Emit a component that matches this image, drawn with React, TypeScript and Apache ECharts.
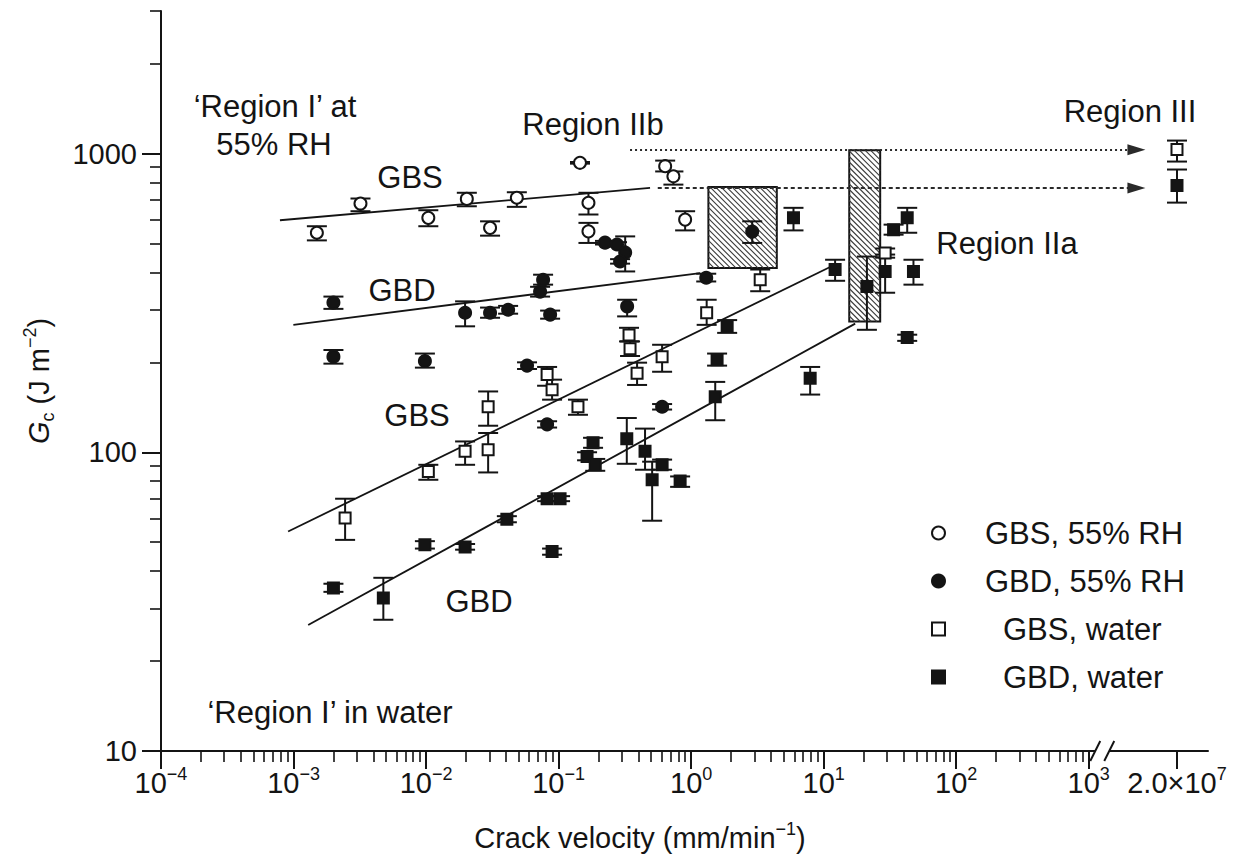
import React, { useEffect, useRef } from "react";
import * as echarts from "echarts";

const FONT = "Liberation Sans";
const INK = "#141414";
const TEXT_SIZE = 29;
const NOTE_SIZE = 31;
const SUP_SIZE = 18;

// ---- axes -------------------------------------------------------------
// Velocity axis is drawn in decades (log10 of mm/min); past 10^3 the axis is
// broken and only the Region III velocity is shown.
const X_DECADES = [-4, -3, -2, -1, 0, 1, 2, 3];
const X_MINOR_DECADES = [-4, -3, -2, -1, 0, 1, 2];
const MINOR_STEPS = [2, 3, 4, 5, 6, 7, 8, 9];
const X_MIN_POS = -4;
const X_MAX_POS = 3.9;
const BREAK_FROM = 1e3;
const REGION_III_V = 2.0e7;
const REGION_III_POS = 3.666; // where the 2.0×10^7 tick sits beyond the break
const BREAK_MARK_POS = 3.102;
const ARROW_END_POS = 3.36;

const Y_DECADES = [1, 2, 3];
const Y_LABELS = ["10", "100", "1000"];
const Y_MINOR = [20, 30, 40, 50, 60, 70, 80, 90, 200, 300, 400, 500, 600, 700, 800, 900, 2000, 3000];
const Y_MIN = 10;
const Y_MAX = 3000;

// ---- data: crack velocity (mm/min), Gc (J m^-2), error limits ------------
// GBS, 55% RH
const gbsRhV = [1.5e-3, 3.2e-3, 0.0104, 0.0203, 0.0304, 0.0484, 0.145, 0.168, 0.168, 0.637, 0.735, 0.901];
const gbsRhG = [543, 680, 609, 705, 564, 711, 931, 684, 549, 907, 839, 601];
const gbsRhLo = [512, 641, 571, 666, 531, 663, 925, 625, 502, 871, 787, 553];
const gbsRhHi = [571, 707, 646, 739, 593, 742, 937, 739, 586, 947, 871, 641];

// GBD, 55% RH
const gbdRhV = [2.0e-3, 2.0e-3, 9.8e-3, 0.0197, 0.0304, 0.0416, 0.0725, 0.0764, 0.0863, 0.0578, 0.224, 0.276, 0.318, 0.291, 0.329, 1.3, 2.89, 0.604, 0.0819];
const gbdRhG = [317, 209, 202, 293, 293, 300, 345, 378, 289, 195, 503, 496, 466, 435, 308, 384, 548, 142, 124];
const gbdRhLo = [302, 198, 192, 264, 282, 291, 332, 364, 280, 190, 496, 488, 403, 428, 285, 373, 502, 139, 121];
const gbdRhHi = [332, 220, 214, 320, 305, 309, 358, 393, 298, 200, 510, 505, 528, 443, 324, 396, 593, 145, 127];

// GBS, water
const gbsWaterV = [2.45e-3, 0.0104, 0.0197, 0.0294, 0.0294, 0.0819, 0.0893, 0.14, 0.34, 0.346, 0.391, 0.604, 1.31, 3.32, 29.1, 2.0e7];
const gbsWaterG = [60.2, 86.2, 100.7, 142, 102, 182, 162, 142, 247, 222, 184, 209, 293, 378, 465, 1031];
const gbsWaterLo = [50.9, 80.9, 90.8, 122.7, 85.6, 167, 150, 133.5, 235, 210, 168, 186, 267, 346, 448, 940];
const gbsWaterHi = [69.9, 90.8, 108.7, 159.8, 116, 193, 175, 150, 261, 235, 199.5, 229, 324, 409, 481, 1105];

// GBD, water
const gbdWaterV = [2.0e-3, 4.76e-3, 9.8e-3, 0.0197, 0.0407, 0.0819, 0.1026, 0.0893, 0.182, 0.164, 0.189, 0.327, 0.449, 0.604, 0.508, 0.826, 1.57, 1.52, 1.87, 7.91, 42.7, 5.92, 12.2, 21.2, 29.1, 33.7, 42.7, 47.6, 2.0e7];
const gbdWaterG = [35.1, 32.5, 49, 48.2, 59.7, 69.9, 69.9, 46.5, 107.6, 96.8, 90.8, 111, 100.7, 90.8, 80.9, 80.2, 204, 153.5, 264, 177, 242, 609, 409, 359, 403, 556, 609, 403, 781];
const gbdWaterLo = [34.1, 27.5, 47.6, 47.2, 58.3, 68.6, 68.6, 45.4, 103.5, 94, 86.7, 91.5, 87.4, 87.4, 59, 76.6, 195, 128, 251, 156, 236, 553, 375, 257, 342, 535, 543, 364, 685];
const gbdWaterHi = [36.3, 38, 50.4, 49.3, 61.1, 71.3, 71.3, 47.6, 111.8, 100, 95, 130.2, 120, 94.5, 93, 83, 214, 172, 277, 193, 247.5, 658, 441, 452, 459, 578, 658, 441, 884];

// Fitted trend lines (end points)
const fitGbsRhV = [7.9e-4, 0.49];
const fitGbsRhG = [598, 767];
const fitGbdRhV = [9.97e-4, 1.17];
const fitGbdRhG = [267, 398];
const fitGbsWaterV = [9.1e-4, 11.8];
const fitGbsWaterG = [54.3, 422];
const fitGbdWaterV = [1.29e-3, 17.3];
const fitGbdWaterG = [26.4, 269.5];

// Transition bands (Region IIb box, Region IIa box)
const bandV0 = [1.35, 15.6];
const bandV1 = [4.43, 26.7];
const bandG0 = [414, 274];
const bandG1 = [773, 1026];

// Dotted guides towards Region III
const guideV0 = [0.346, 0.56];
const guideG = [1030, 767];

const xPos = (v: number) => (v > BREAK_FROM ? REGION_III_POS : Math.log10(v));
const yPos = (g: number) => Math.log10(g);

const points = (v: number[], g: number[]) => v.map((x, i) => [xPos(x), yPos(g[i])]);
const bars = (v: number[], lo: number[], hi: number[]) => v.map((x, i) => [xPos(x), yPos(lo[i]), yPos(hi[i])]);

const supText = (s: string) => s.replace("-", "\u2212");

const errorSeries = (name: string, data: number[][]) => ({
  type: "custom",
  name,
  data,
  encode: { x: 0, y: [1, 2] },
  silent: true,
  z: 3,
  renderItem: (_p: any, api: any) => {
    const x = api.value(0);
    const lo = api.coord([x, api.value(1)]);
    const hi = api.coord([x, api.value(2)]);
    const hw = 10;
    const st = { stroke: INK, lineWidth: 2 };
    return {
      type: "group",
      children: [
        { type: "line", shape: { x1: lo[0], y1: lo[1], x2: hi[0], y2: hi[1] }, style: st },
        { type: "line", shape: { x1: lo[0] - hw, y1: lo[1], x2: lo[0] + hw, y2: lo[1] }, style: st },
        { type: "line", shape: { x1: hi[0] - hw, y1: hi[1], x2: hi[0] + hw, y2: hi[1] }, style: st },
      ],
    };
  },
});

const fitSeries = (v: number[], g: number[]) => ({
  type: "line",
  data: points(v, g),
  symbol: "none",
  silent: true,
  z: 2,
  lineStyle: { color: INK, width: 1.8 },
});

const bandData = bandV0.map((v, i) => [xPos(v), xPos(bandV1[i]), yPos(bandG0[i]), yPos(bandG1[i])]);

const annotations = [
  { text: "\u2018Region I\u2019 at", x: 275, y: 106 },
  { text: "55% RH", x: 274, y: 144 },
  { text: "Region IIb", x: 593, y: 124 },
  { text: "GBS", x: 410, y: 177 },
  { text: "GBD", x: 402, y: 290 },
  { text: "GBS", x: 417, y: 415 },
  { text: "GBD", x: 479, y: 601 },
  { text: "Region IIa", x: 1007, y: 243 },
  { text: "Region III", x: 1130, y: 111 },
  { text: "\u2018Region I\u2019 in water", x: 330, y: 712 },
];

const supRich = {
  s: { fontFamily: FONT, fontSize: SUP_SIZE, color: INK, verticalAlign: "top", lineHeight: SUP_SIZE },
};

const solid = (fill: string) => ({ color: fill, borderColor: INK, borderWidth: 2, opacity: 1 });

export default function App() {
  const ref = useRef<HTMLDivElement>(null);

  useEffect(() => {
    const el = ref.current;
    if (!el) return;
    const chart = echarts.init(el, null, { renderer: "svg" });

    const xMinor: number[] = [];
    X_MINOR_DECADES.forEach((d) => MINOR_STEPS.forEach((k) => xMinor.push(d + Math.log10(k))));
    const xMajor = [...X_DECADES, REGION_III_POS];
    const yMinor = Y_MINOR.map((g) => Math.log10(g));

    const axisLineStyle = { color: INK, width: 2 };

    const option: any = {
      animation: false,
      backgroundColor: "#ffffff",
      grid: { left: 161, right: 34, top: 11, bottom: 105, containLabel: false },
      xAxis: [
        {
          type: "value",
          min: X_MIN_POS,
          max: X_MAX_POS,
          position: "bottom",
          axisLine: { show: true, onZero: false, lineStyle: axisLineStyle },
          axisTick: { show: true, customValues: xMajor, length: 18, lineStyle: { color: INK, width: 2 } },
          axisLabel: {
            show: true,
            customValues: xMajor,
            margin: 14,
            fontFamily: FONT,
            fontSize: TEXT_SIZE,
            color: INK,
            lineHeight: 36,
            rich: supRich,
            formatter: (val: number) => {
              if (Math.abs(val - REGION_III_POS) < 1e-6) return "2.0\u00d710{s|7}";
              return "10{s|" + supText(String(Math.round(val))) + "}";
            },
          },
          splitLine: { show: false },
        },
        {
          type: "value",
          min: X_MIN_POS,
          max: X_MAX_POS,
          position: "bottom",
          offset: 0,
          axisLine: { show: false, onZero: false },
          axisTick: { show: true, customValues: xMinor, length: 11, lineStyle: { color: INK, width: 1.6 } },
          axisLabel: { show: false },
          splitLine: { show: false },
        },
      ],
      yAxis: [
        {
          type: "value",
          min: yPos(Y_MIN),
          max: yPos(Y_MAX),
          position: "left",
          axisLine: { show: true, onZero: false, lineStyle: axisLineStyle },
          axisTick: { show: true, customValues: Y_DECADES, length: 19, lineStyle: { color: INK, width: 2 } },
          axisLabel: {
            show: true,
            customValues: Y_DECADES,
            margin: 24,
            fontFamily: FONT,
            fontSize: TEXT_SIZE,
            color: INK,
            formatter: (val: number) => Y_LABELS[Y_DECADES.indexOf(Math.round(val))],
          },
          splitLine: { show: false },
          name: "{i|G}{sub|c} (J m{sup|\u22122})",
          nameLocation: "middle",
          nameGap: 104,
          nameRotate: 90,
          nameTextStyle: {
            fontFamily: FONT,
            fontSize: TEXT_SIZE,
            color: INK,
            lineHeight: 36,
            rich: {
              i: { fontFamily: FONT, fontSize: TEXT_SIZE, fontStyle: "italic", color: INK, lineHeight: 36 },
              sub: { fontFamily: FONT, fontSize: SUP_SIZE, color: INK, verticalAlign: "bottom", lineHeight: SUP_SIZE },
              sup: { fontFamily: FONT, fontSize: SUP_SIZE, color: INK, verticalAlign: "top", lineHeight: SUP_SIZE },
            },
          },
        },
        {
          type: "value",
          min: yPos(Y_MIN),
          max: yPos(Y_MAX),
          position: "left",
          offset: 0,
          axisLine: { show: false, onZero: false },
          axisTick: { show: true, customValues: yMinor, length: 11, lineStyle: { color: INK, width: 1.6 } },
          axisLabel: { show: false },
          splitLine: { show: false },
        },
      ],
      legend: {
        orient: "vertical",
        left: 926,
        top: 512,
        itemWidth: 13,
        itemHeight: 13,
        itemGap: 16,
        selectedMode: false,
        textStyle: { fontFamily: FONT, fontSize: NOTE_SIZE, color: INK, lineHeight: 32, padding: [0, 0, 0, 35] },
        data: [
          { name: "GBS, 55% RH" },
          { name: "GBD, 55% RH" },
          { name: "GBS, water", textStyle: { padding: [0, 0, 0, 53] } },
          { name: "GBD, water", textStyle: { padding: [0, 0, 0, 53] } },
        ],
      },
      series: [
        {
          type: "custom",
          name: "transition bands",
          data: bandData,
          encode: { x: [0, 1], y: [2, 3] },
          silent: true,
          z: 1,
          renderItem: (_p: any, api: any) => {
            const a = api.coord([api.value(0), api.value(3)]);
            const b = api.coord([api.value(1), api.value(2)]);
            const x0 = a[0];
            const y0 = a[1];
            const w = b[0] - a[0];
            const h = b[1] - a[1];
            const children: any[] = [
              { type: "rect", shape: { x: x0, y: y0, width: w, height: h }, style: { fill: "#ffffff", stroke: INK, lineWidth: 2 } },
            ];
            const step = 5.5;
            for (let c = -h; c < w; c += step) {
              const t0 = Math.max(0, -c);
              const t1 = Math.min(h, w - c);
              if (t1 <= t0) continue;
              children.push({
                type: "line",
                shape: { x1: x0 + c + t0, y1: y0 + t0, x2: x0 + c + t1, y2: y0 + t1 },
                style: { stroke: "#3a3a3a", lineWidth: 1.1 },
              });
            }
            return { type: "group", children };
          },
        },
        {
          type: "line",
          name: "guides",
          data: [],
          silent: true,
          z: 2,
          markLine: {
            silent: true,
            symbol: ["none", "triangle"],
            symbolSize: [11, 18],
            label: { show: false },
            data: [
              [
                { coord: [xPos(guideV0[0]), yPos(guideG[0])], lineStyle: { type: [2, 3], color: "#2a2a2a", width: 2 } },
                { coord: [ARROW_END_POS, yPos(guideG[0])] },
              ],
              [
                { coord: [xPos(guideV0[1]), yPos(guideG[1])], lineStyle: { type: [4, 3], color: "#2a2a2a", width: 2 } },
                { coord: [ARROW_END_POS, yPos(guideG[1])] },
              ],
            ],
            itemStyle: { color: INK },
          },
        },
        fitSeries(fitGbsRhV, fitGbsRhG),
        fitSeries(fitGbdRhV, fitGbdRhG),
        fitSeries(fitGbsWaterV, fitGbsWaterG),
        fitSeries(fitGbdWaterV, fitGbdWaterG),
        errorSeries("GBS, 55% RH bars", bars(gbsRhV, gbsRhLo, gbsRhHi)),
        errorSeries("GBD, 55% RH bars", bars(gbdRhV, gbdRhLo, gbdRhHi)),
        errorSeries("GBS, water bars", bars(gbsWaterV, gbsWaterLo, gbsWaterHi)),
        errorSeries("GBD, water bars", bars(gbdWaterV, gbdWaterLo, gbdWaterHi)),
        {
          type: "scatter",
          name: "GBS, 55% RH",
          data: points(gbsRhV, gbsRhG),
          symbol: "circle",
          symbolSize: 12,
          itemStyle: solid("#ffffff"),
          z: 5,
        },
        {
          type: "scatter",
          name: "GBD, 55% RH",
          data: points(gbdRhV, gbdRhG),
          symbol: "circle",
          symbolSize: 12,
          itemStyle: solid(INK),
          z: 5,
        },
        {
          type: "scatter",
          name: "GBS, water",
          data: points(gbsWaterV, gbsWaterG),
          symbol: "rect",
          symbolSize: 11,
          itemStyle: solid("#ffffff"),
          z: 5,
        },
        {
          type: "scatter",
          name: "GBD, water",
          data: points(gbdWaterV, gbdWaterG),
          symbol: "rect",
          symbolSize: 11,
          itemStyle: solid(INK),
          z: 5,
        },
      ],
      graphic: [
        ...annotations.map((a) => ({
          type: "text",
          x: a.x,
          y: a.y,
          silent: true,
          style: { text: a.text, fontFamily: FONT, fontSize: NOTE_SIZE, fill: INK, align: "center", verticalAlign: "middle" },
        })),
        {
          type: "text",
          x: 640,
          y: 838,
          silent: true,
          style: {
            text: "Crack velocity (mm/min{s|\u22121})",
            fontFamily: FONT,
            fontSize: TEXT_SIZE,
            fill: INK,
            align: "center",
            verticalAlign: "middle",
            lineHeight: 36,
            rich: supRich,
          },
        },
      ],
    };

    chart.setOption(option);

    // axis break marks between 10^3 and the Region III velocity
    const bx = chart.convertToPixel({ xAxisIndex: 0 }, BREAK_MARK_POS) as number;
    const by = chart.convertToPixel({ yAxisIndex: 0 }, yPos(Y_MIN)) as number;
    const half = 7;
    chart.setOption({
      graphic: [
        ...option.graphic,
        { type: "rect", shape: { x: bx - half, y: by - 3, width: half * 2, height: 6 }, style: { fill: "#ffffff" }, z: 50, silent: true },
        { type: "line", shape: { x1: bx - half - 5, y1: by + 10, x2: bx - half + 5, y2: by - 10 }, style: { stroke: INK, lineWidth: 2 }, z: 51, silent: true },
        { type: "line", shape: { x1: bx + half - 5, y1: by + 10, x2: bx + half + 5, y2: by - 10 }, style: { stroke: INK, lineWidth: 2 }, z: 51, silent: true },
      ],
    });

    return () => chart.dispose();
  }, []);

  return (
    <div
      ref={ref}
      style={{ position: "fixed", left: 0, top: 0, width: 1242, height: 856, background: "#ffffff" }}
    />
  );
}
